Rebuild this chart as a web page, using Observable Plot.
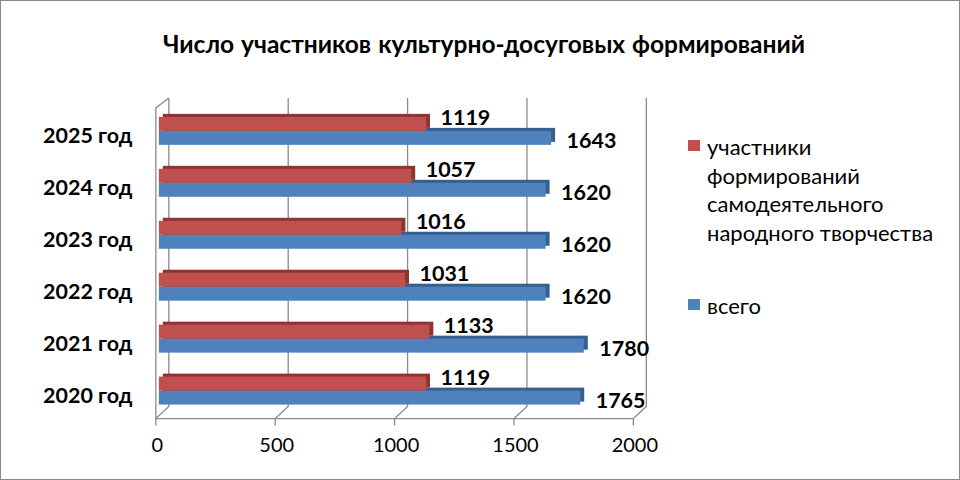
<!DOCTYPE html>
<html>
<head>
<meta charset="utf-8">
<script src="https://cdn.jsdelivr.net/npm/d3@7"></script>
<script src="https://cdn.jsdelivr.net/npm/@observablehq/plot@0.6"></script>
<style>
  html, body { margin: 0; padding: 0; background: #fff; }
  #wrap { position: relative; width: 960px; height: 480px; box-sizing: border-box; border: 1px solid #8a8a8a; overflow: hidden; font-family: Lato, "Noto Sans", sans-serif; }
  #chart { position: absolute; left: -1px; top: -1px; }
  #title { position: absolute; left: 0; width: 966px; top: 28px; text-align: center; font-weight: bold; font-size: 24.5px; color: #000; word-spacing: 1px; }
  .leg { position: absolute; left: 686px; font-size: 22px; line-height: 28.5px; color: #000; white-space: pre-line; }
  .leg .sw { position: absolute; left: 1px; top: 7px; width: 12px; height: 11px; }
  .leg .tx { position: absolute; left: 20px; top: 0; width: 270px; }
</style>
</head>
<body>
<div id="wrap">
  <div id="chart"></div>
  <div id="title"></div>
  <div id="legend"></div>
</div>
<script>
const titleText = "Число участников культурно-досуговых формирований";
const years = ["2020 год", "2021 год", "2022 год", "2023 год", "2024 год", "2025 год"];
const participants = [1119, 1133, 1031, 1016, 1057, 1119];
const total = [1765, 1780, 1620, 1620, 1620, 1643];
const xTicks = [0, 500, 1000, 1500, 2000];
const seriesNames = ["участники\nформирований\nсамодеятельного\nнародного творчества", "всего"];
const seriesColors = ["#C0504D", "#4F81BD"];
const seriesDark = ["#8E3431", "#35608F"];

const rows = years.map((year, i) => ({year, participants: participants[i], total: total[i]}));

document.getElementById("title").textContent = titleText;

// 3D walls, floor and gridlines, positioned through the x scale
function walls(index, scales, values, dims) {
  const x = scales.x;
  const g = d3.create("svg:g").attr("fill", "none").attr("stroke", "#8a8a8a").attr("stroke-width", 1.3);
  const backTop = 98, backBottom = 407, front = 419, frontTop = 108, bx = 10, fx = -3;
  for (const v of xTicks) {
    g.append("path").attr("d", `M${x(v) + bx},${backTop}V${backBottom}L${x(v) + fx},${front}V${front + 7}`);
  }
  g.append("path").attr("d", `M${x(0) + fx},${front}H${x(xTicks[xTicks.length - 1]) + fx}`);
  g.append("path").attr("d", `M${x(0) + fx},${front}V${frontTop}L${x(0) + bx},${backTop}`);
  return g.node();
}

const font = "Lato, 'Noto Sans', sans-serif";

const plot = Plot.plot({
  width: 960,
  height: 480,
  marginLeft: 159,
  marginRight: 323,
  marginTop: 105,
  marginBottom: 63,
  style: {fontFamily: font, background: "transparent", color: "#000"},
  x: {domain: [0, 2000], axis: null},
  y: {domain: years.slice().reverse(), type: "band", padding: 0, axis: null},
  marks: [
    walls,
    Plot.barX(rows, {x: "total", y: "year", insetTop: 26, insetBottom: 12, dx: 4, dy: -3, fill: seriesDark[1]}),
    Plot.barX(rows, {x: "total", y: "year", insetTop: 26, insetBottom: 12, fill: seriesColors[1]}),
    Plot.barX(rows, {x: "participants", y: "year", insetTop: 12, insetBottom: 26, dx: 4, dy: -3, fill: seriesDark[0]}),
    Plot.barX(rows, {x: "participants", y: "year", insetTop: 12, insetBottom: 26, fill: seriesColors[0]}),
    Plot.text(rows, {x: "participants", y: "year", text: d => String(d.participants), textAnchor: "start", dx: 14, dy: -13, fontSize: 21.5, fontWeight: "bold", fill: "#000"}),
    Plot.text(rows, {x: "total", y: "year", text: d => String(d.total), textAnchor: "start", dx: 15, dy: 10, fontSize: 21.5, fontWeight: "bold", fill: "#000"}),
    Plot.text(years, {y: d => d, text: d => d, frameAnchor: "left", textAnchor: "end", dx: -27, dy: 5, fontSize: 21.5, fontWeight: "bold", fill: "#000"}),
    Plot.text(xTicks, {x: d => d, text: d => String(d), frameAnchor: "bottom", dx: -2, dy: 35, fontSize: 20, fill: "#000"})
  ]
});
document.getElementById("chart").appendChild(plot);

const legend = document.getElementById("legend");
const legendTops = [132, 291];
seriesNames.forEach((name, i) => {
  const item = document.createElement("div");
  item.className = "leg";
  item.style.top = legendTops[i] + "px";
  const sw = document.createElement("div");
  sw.className = "sw";
  sw.style.background = seriesColors[i];
  const tx = document.createElement("div");
  tx.className = "tx";
  tx.textContent = name;
  item.appendChild(sw);
  item.appendChild(tx);
  legend.appendChild(item);
});
</script>
</body>
</html>
